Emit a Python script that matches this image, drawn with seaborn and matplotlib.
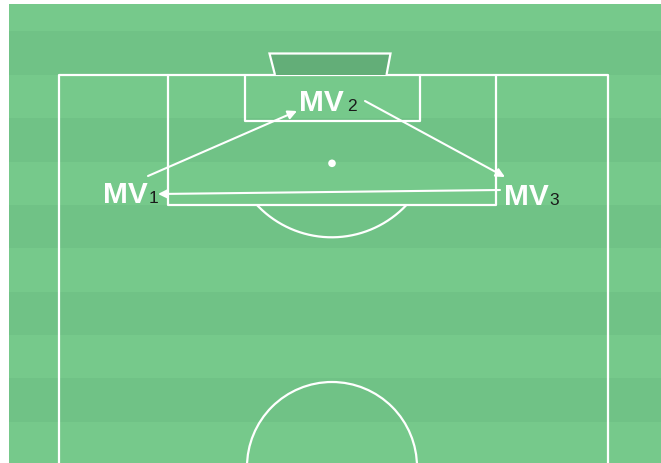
import matplotlib
matplotlib.use("Agg")
import matplotlib.pyplot as plt
import matplotlib.patches as mpatches
import numpy as np
import pandas as pd
import seaborn as sns

# ---------------- data ----------------
node_names = ["MV", "MV", "MV"]
node_subs = ["1", "2", "3"]
node_x = [103, 299, 504]          # label left x (pixel units of pitch image)
node_y = [202.7, 110.7, 205.0]    # label baseline
sub_x = [149, 347, 549]

edge_x0 = [148, 365, 500]
edge_y0 = [177, 102, 191]
edge_x1 = [297, 505, 158]
edge_y1 = [112, 178, 195]

stripe_edges = [5, 32.3, 75.7, 119, 162.7, 206, 249.3, 292.7, 336, 379.3, 422.7, 464]
stripe_colors = ["#76c98b", "#70c286"]

spot_df = pd.DataFrame({"x": [332], "y": [164.3]})

# ---------------- figure ----------------
sns.set_style("white")
plt.rcParams['font.family'] = ['Liberation Sans', 'DejaVu Sans']
W, H = 661, 464
fig = plt.figure(figsize=(W / 100, H / 100), dpi=100)
ax = fig.add_axes([0, 0, 1, 1])

# stripes
for i in range(len(stripe_edges) - 1):
    ax.add_patch(mpatches.Rectangle((9, stripe_edges[i]), W - 9,
                                    stripe_edges[i + 1] - stripe_edges[i],
                                    facecolor=stripe_colors[i % 2], edgecolor="none", zorder=0))

lc = "white"
lw = 1.6
# outer boundary (goal line + touchlines)
ax.plot([59, 59, 608, 608], [H + 5, 76, 76, H + 5], color=lc, lw=lw, zorder=2)
# penalty box
ax.plot([168, 168, 496, 496], [76, 205.7, 205.7, 76], color=lc, lw=lw, zorder=2)
# goal area
ax.plot([245, 245, 420, 420], [76, 122.3, 122.3, 76], color=lc, lw=lw, zorder=2)
# goal
ax.add_patch(mpatches.Polygon([(275, 76), (269.5, 54.5), (390.5, 54.5), (386.5, 76)],
                              closed=False, facecolor="#63ae78", edgecolor=lc, lw=lw, zorder=2))
# penalty arc
cx, cy, r = 331.7, 135.7, 102.6
ang = np.linspace(0, np.pi, 400)
arc_x = cx + r * np.cos(ang)
arc_y = cy + r * np.sin(ang)
m = arc_y >= 205.7
ax.plot(arc_x[m], arc_y[m], color=lc, lw=lw, zorder=2)
# center circle
ax.add_patch(mpatches.Circle((332, 468), 85, facecolor="none", edgecolor=lc, lw=lw, zorder=2))
# penalty spot
sns.scatterplot(data=spot_df, x="x", y="y", ax=ax, s=30, color="white",
                edgecolor="none", zorder=3, legend=False)
ax.set_xlim(0, W)
ax.set_ylim(H, 0)
ax.axis("off")

# edges
for x0, y0, x1, y1 in zip(edge_x0, edge_y0, edge_x1, edge_y1):
    ax.annotate("", xy=(x1, y1), xytext=(x0, y0),
                arrowprops=dict(arrowstyle="-|>", color="white", lw=1.5,
                                mutation_scale=13, shrinkA=0, shrinkB=0),
                zorder=4)

# labels
for name, sub, x, y, sx in zip(node_names, node_subs, node_x, node_y, sub_x):
    ax.text(x, y, name, fontsize=21.5, fontweight="bold", color="white",
            ha="left", va="baseline", zorder=5)
    ax.text(sx, y, sub, fontsize=12.5, color="#1a1a1a",
            ha="left", va="baseline", zorder=5)

fig.savefig("out.png", dpi=100)
